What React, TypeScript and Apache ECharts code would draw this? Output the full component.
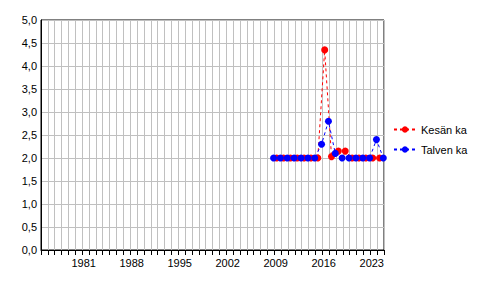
import React, { useEffect, useRef } from "react";
import * as echarts from "echarts";

const summerYears = [2007, 2008, 2009, 2010, 2011, 2012, 2013, 2014, 2015, 2016, 2017, 2018, 2019, 2020, 2021, 2022];
const summerValues = [2.0, 2.0, 2.0, 2.0, 2.0, 2.0, 2.0, 4.35, 2.03, 2.15, 2.15, 2.0, 2.0, 2.0, 2.0, 2.0];
const winterYears = [2007, 2008, 2009, 2010, 2011, 2012, 2013, 2014, 2015, 2016, 2017, 2018, 2019, 2020, 2021, 2022, 2023];
const winterValues = [2.0, 2.0, 2.0, 2.0, 2.0, 2.0, 2.0, 2.3, 2.8, 2.1, 2.0, 2.0, 2.0, 2.0, 2.0, 2.4, 2.0];
const xLabels = [1981, 1988, 1995, 2002, 2009, 2016, 2023];
const seriesNames = ["Kesän ka", "Talven ka"];

const SUMMER_SHIFT = 0.35;
const WINTER_SHIFT = -0.1;

export default function App() {
  const ref = useRef<HTMLDivElement>(null);
  useEffect(() => {
    if (!ref.current) return;
    const chart = echarts.init(ref.current, null, { renderer: "svg" });
    const font = { fontFamily: "'Liberation Sans', Arial, sans-serif", fontSize: 11, color: "#000" };
    chart.setOption({
      animation: false,
      backgroundColor: "#fff",
      grid: {
        left: 41, top: 20, right: 112, bottom: 46,
        show: true, borderColor: "#000", borderWidth: 1, backgroundColor: "#fff",
      },
      legend: {
        orient: "vertical",
        left: 393,
        top: 124,
        padding: 0,
        itemWidth: 22,
        itemHeight: 8,
        itemGap: 9,
        textStyle: { ...font },
        data: seriesNames,
      },
      xAxis: {
        type: "value",
        min: 1973,
        max: 2023,
        interval: 1,
        axisLine: { onZero: false, lineStyle: { color: "#000", width: 1 } },
        axisTick: { show: true, length: 5, inside: false, lineStyle: { color: "#000" } },
        splitLine: { show: true, lineStyle: { color: "#c0c0c0", width: 1 } },
        axisLabel: {
          ...font,
          margin: 7,
          align: "right",
          showMinLabel: true,
          showMaxLabel: true,
          formatter: (v: number) => (xLabels.includes(Math.round(v)) ? String(Math.round(v)) : ""),
        },
      },
      yAxis: {
        type: "value",
        min: 0,
        max: 5,
        interval: 0.5,
        axisLine: { show: true, lineStyle: { color: "#000", width: 1 } },
        axisTick: { show: false },
        splitLine: { show: true, lineStyle: { color: "#c0c0c0", width: 1 } },
        axisLabel: {
          ...font,
          margin: 4,
          formatter: (v: number) => v.toFixed(1).replace(".", ","),
        },
      },
      series: [
        {
          name: seriesNames[0],
          type: "line",
          data: summerYears.map((y, i) => [y + SUMMER_SHIFT, summerValues[i]]),
          symbol: "circle",
          symbolSize: 7,
          color: "#ff0000",
          itemStyle: { color: "#ff0000" },
          lineStyle: { color: "#ff0000", width: 1, type: [3, 3] },
        },
        {
          name: seriesNames[1],
          type: "line",
          data: winterYears.map((y, i) => [y + WINTER_SHIFT, winterValues[i]]),
          symbol: "circle",
          symbolSize: 7,
          color: "#0000ff",
          itemStyle: { color: "#0000ff" },
          lineStyle: { color: "#0000ff", width: 1, type: [3, 3] },
        },
      ],
    });
    return () => chart.dispose();
  }, []);
  return (
    <div
      ref={ref}
      style={{ position: "fixed", left: 0, top: 0, width: 496, height: 296, background: "#fff" }}
    />
  );
}
